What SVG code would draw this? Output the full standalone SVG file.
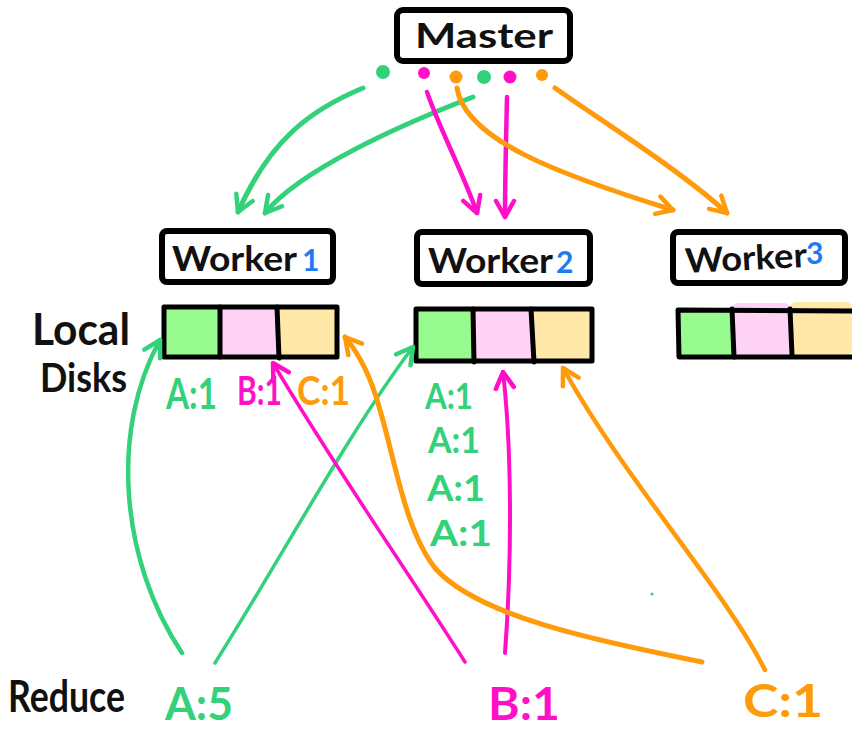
<svg xmlns="http://www.w3.org/2000/svg" width="852" height="732" viewBox="0 0 852 732">
  <style>
    .box { fill: #fff; stroke: #000; stroke-width: 6; stroke-linejoin: round; }
    .disk { fill: none; stroke: #000; stroke-width: 5; stroke-linejoin: round; stroke-linecap: round; }
    .div { stroke: #000; stroke-width: 5; stroke-linecap: round; }
    .cg { fill: #98fb8f; }
    .cp { fill: #ffd3f6; }
    .cy { fill: #ffe8a8; }
    .t { font-family: Lato, "Open Sans", sans-serif; font-weight: bold; }
    .blk { fill: #111; }
    .num { fill: #1f7af0; }
    .g { fill: #33d17a; }
    .m { fill: #ff10c8; }
    .o { fill: #ff9a0a; }
    .ln { fill: none; stroke-linecap: round; stroke-linejoin: round; }
    .lg { stroke: #33d17a; }
    .lm { stroke: #ff10c8; }
    .lo { stroke: #ff9a0a; }
  </style>
  <defs>
    <marker id="ah-g" viewBox="0 0 24 24" refX="20" refY="12" markerWidth="24" markerHeight="24" markerUnits="userSpaceOnUse" orient="auto">
      <path d="M4,3 L20,12 L4,21" fill="none" stroke="#33d17a" stroke-width="4.5" stroke-linecap="round" stroke-linejoin="round"/>
    </marker>
    <marker id="ah-m" viewBox="0 0 24 24" refX="20" refY="12" markerWidth="24" markerHeight="24" markerUnits="userSpaceOnUse" orient="auto">
      <path d="M4,3 L20,12 L4,21" fill="none" stroke="#ff10c8" stroke-width="4.5" stroke-linecap="round" stroke-linejoin="round"/>
    </marker>
    <marker id="ah-o" viewBox="0 0 24 24" refX="20" refY="12" markerWidth="24" markerHeight="24" markerUnits="userSpaceOnUse" orient="auto">
      <path d="M4,3 L20,12 L4,21" fill="none" stroke="#ff9a0a" stroke-width="4.5" stroke-linecap="round" stroke-linejoin="round"/>
    </marker>
  </defs>

  <rect width="852" height="732" fill="#fff"/>

  <!-- Master -->
  <g id="master">
    <rect class="box" x="397" y="10" width="173" height="51" rx="6"/>
    <text class="t blk" x="415" y="48" font-size="34" textLength="138" lengthAdjust="spacingAndGlyphs">Master</text>
    <circle class="g" cx="383" cy="72" r="7"/>
    <circle class="m" cx="424" cy="73" r="6"/>
    <circle class="o" cx="456" cy="77" r="6.5"/>
    <circle class="g" cx="484" cy="77" r="7"/>
    <circle class="m" cx="510" cy="77" r="6.5"/>
    <circle class="o" cx="542" cy="75" r="6"/>
  </g>

  <!-- Workers -->
  <g id="worker1">
    <rect class="box" x="162" y="231" width="171" height="51" rx="5"/>
    <text class="t blk" x="172" y="271" font-size="34" textLength="125" lengthAdjust="spacingAndGlyphs">Worker</text>
    <text class="t num" x="302" y="271" font-size="30">1</text>
  </g>
  <g id="worker2">
    <rect class="box" x="417" y="232" width="173" height="52" rx="5"/>
    <text class="t blk" x="428" y="273" font-size="34" textLength="125" lengthAdjust="spacingAndGlyphs">Worker</text>
    <text class="t num" x="556" y="273" font-size="30">2</text>
  </g>
  <g id="worker3">
    <rect class="box" x="673" y="232" width="172" height="51" rx="5"/>
    <text class="t blk" x="685" y="270" font-size="34" textLength="122" lengthAdjust="spacingAndGlyphs" transform="rotate(-3 745 258)">Worker</text>
    <text class="t num" x="806" y="264" font-size="30">3</text>
  </g>

  <!-- Local disks -->
  <g id="labels-left">
    <text class="t blk" x="32" y="345" font-size="44" font-weight="normal" textLength="98" lengthAdjust="spacingAndGlyphs">Local</text>
    <text class="t blk" x="40" y="392" font-size="40" font-weight="normal" textLength="87" lengthAdjust="spacingAndGlyphs">Disks</text>
  </g>

  <g id="disk1">
    <rect class="cg" x="164" y="308" width="56" height="49"/>
    <rect class="cp" x="220" y="308" width="57" height="49"/>
    <rect class="cy" x="277" y="308" width="60" height="49"/>
    <rect class="disk" x="164" y="307" width="173" height="50"/>
    <line class="div" x1="220" y1="307" x2="220" y2="357"/>
    <line class="div" x1="277" y1="307" x2="279" y2="358"/>
    <text class="t g" x="166" y="409" font-size="42" textLength="51" lengthAdjust="spacingAndGlyphs">A:1</text>
    <text class="t m" x="237" y="405" font-size="40" textLength="45" lengthAdjust="spacingAndGlyphs">B:1</text>
    <text class="t o" x="297" y="405" font-size="40" textLength="53" lengthAdjust="spacingAndGlyphs">C:1</text>
  </g>

  <g id="disk2">
    <rect class="cg" x="416" y="309" width="57" height="52"/>
    <rect class="cp" x="473" y="309" width="59" height="52"/>
    <rect class="cy" x="532" y="309" width="61" height="52"/>
    <rect class="disk" x="416" y="309" width="176" height="52"/>
    <line class="div" x1="473" y1="309" x2="474" y2="362"/>
    <line class="div" x1="531" y1="309" x2="534" y2="362"/>
    <text class="t g" x="425" y="409" font-size="37" textLength="48" lengthAdjust="spacingAndGlyphs">A:1</text>
    <text class="t g" x="428" y="453" font-size="37" textLength="52" lengthAdjust="spacingAndGlyphs">A:1</text>
    <text class="t g" x="427" y="501" font-size="37" textLength="58" lengthAdjust="spacingAndGlyphs">A:1</text>
    <text class="t g" x="430" y="546" font-size="37" textLength="62" lengthAdjust="spacingAndGlyphs">A:1</text>
  </g>

  <g id="disk3">
    <rect class="cg" x="678" y="309" width="54" height="47"/>
    <rect class="cp" x="732" y="303" width="58" height="53" rx="6"/>
    <rect class="cy" x="790" y="302" width="62" height="54" rx="6"/>
    <path class="disk" d="M852,311 L678,310 L679,357 L852,357"/>
    <line class="div" x1="732" y1="309" x2="734" y2="357"/>
    <line class="div" x1="790" y1="309" x2="792" y2="355"/>
  </g>

  <!-- Reduce row -->
  <g id="reduce">
    <text class="t blk" x="8" y="712" font-size="44" font-weight="normal" textLength="117" lengthAdjust="spacingAndGlyphs">Reduce</text>
    <text class="t g" x="165" y="720" font-size="46" textLength="68" lengthAdjust="spacingAndGlyphs">A:5</text>
    <text class="t m" x="488" y="720" font-size="46" textLength="72" lengthAdjust="spacingAndGlyphs">B:1</text>
    <text class="t o" x="743" y="717" font-size="46" textLength="80" lengthAdjust="spacingAndGlyphs">C:1</text>
  </g>

  <!-- Connectors -->
  <g id="connectors">
    <!-- map tasks from master to workers -->
    <path class="ln lg" stroke-width="5" d="M363,88 C310,110 270,140 238,212" marker-end="url(#ah-g)"/>
    <path class="ln lg" stroke-width="5" d="M473,97 C400,125 300,170 265,213" marker-end="url(#ah-g)"/>
    <path class="ln lm" stroke-width="4.5" d="M427,92 C440,130 462,170 477,213" marker-end="url(#ah-m)"/>
    <path class="ln lm" stroke-width="4.5" d="M507,97 C506,140 505,180 505,217" marker-end="url(#ah-m)"/>
    <path class="ln lo" stroke-width="5" d="M457,88 C465,140 560,175 673,210" marker-end="url(#ah-o)"/>
    <path class="ln lo" stroke-width="5" d="M555,88 C600,120 680,170 727,213" marker-end="url(#ah-o)"/>

    <!-- reduce reads from local disks -->
    <path class="ln lg" stroke-width="4.5" d="M182,653 C120,560 110,430 160,340" marker-end="url(#ah-g)"/>
    <path class="ln lg" stroke-width="3.5" d="M215,663 C280,560 350,430 413,347" marker-end="url(#ah-g)"/>
    <path class="ln lm" stroke-width="3.5" d="M465,662 C400,560 330,460 273,363" marker-end="url(#ah-m)"/>
    <path class="ln lm" stroke-width="4" d="M505,653 C512,560 512,450 503,372" marker-end="url(#ah-m)"/>
    <path class="ln lo" stroke-width="5" d="M702,662 C620,645 480,620 435,568 C405,530 395,460 380,410 C372,380 360,355 345,337" marker-end="url(#ah-o)"/>
    <path class="ln lo" stroke-width="4.5" d="M765,670 C725,590 625,480 563,368" marker-end="url(#ah-o)"/>
  </g>

  <circle class="g" cx="652" cy="594" r="1.6"/>
</svg>
